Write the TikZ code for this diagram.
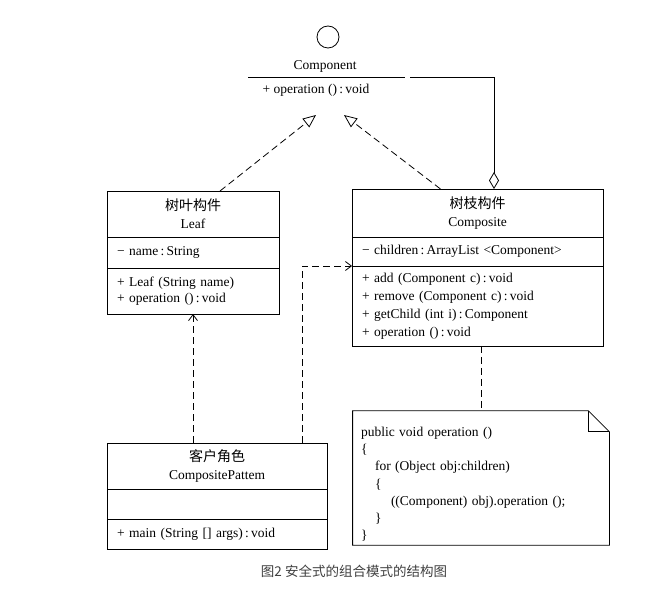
\documentclass[tikz,border=0pt]{standalone}
\usepackage{fontspec}
\setmainfont{Liberation Serif}
\newfontfamily\cjk{Noto Sans CJK SC}
\usetikzlibrary{arrows.meta}
\newcommand{\cl}{\,:\,}

\begin{document}
\begin{tikzpicture}[x=1pt,y=-1pt,line width=0.8pt,
    font=\fontsize{13.5}{16}\selectfont,
    classtitle/.style={rectangle, draw, align=center, inner sep=0pt, outer sep=0pt},
    classpart/.style={rectangle, draw, align=left, inner xsep=10pt, inner ysep=0pt, outer sep=0pt},
    realize/.style={dash pattern=on 7pt off 4pt, -{Triangle[open,length=13pt,width=11pt]}},
    depend/.style={dash pattern=on 7pt off 4pt, -{Straight Barb[length=6pt,width=9pt]}},
    noteline/.style={dash pattern=on 7pt off 4pt}]
   \useasboundingbox (0,0) rectangle (664,601);

   \node[circle, draw, minimum size=22pt, inner sep=0pt] (lolli) at (328,37) {};
   \node (compName) at (325,66) {Component};
   \draw (248,77) -- (405,77);
   \node (compOp) at (316,90) {+ operation ()\cl void};
   \coordinate (realL) at (316,115);
   \coordinate (realR) at (344,115);
   \coordinate (aggStart) at (410,77);

   \node[classtitle, minimum width=172pt, minimum height=46pt] (leafT) at (193,214)
      {{\cjk\fontsize{14}{16}\selectfont 树叶构件}\\[2pt]Leaf};
   \node[classpart, text width=152pt, minimum height=31pt, anchor=north] (leafA) at (leafT.south)
      {− name\cl String};
   \node[classpart, text width=152pt, minimum height=46pt, anchor=north] (leafM) at (leafA.south)
      {+ Leaf (String name)\\+ operation ()\cl void};

   \node[classtitle, minimum width=251pt, minimum height=48pt] (compT) at (477.5,213)
      {{\cjk\fontsize{14}{16}\selectfont 树枝构件}\\[2pt]Composite};
   \node[classpart, text width=231pt, minimum height=29pt, anchor=north] (compA) at (compT.south)
      {− children\cl ArrayList <Component>};
   \node[classpart, text width=231pt, minimum height=80pt, anchor=north,
      font=\fontsize{13.5}{18}\selectfont] (compM) at (compA.south)
      {+ add (Component c)\cl void\\+ remove (Component c)\cl void\\+ getChild (int i)\cl Component\\+ operation ()\cl void};

   \node[classtitle, minimum width=220pt, minimum height=46pt] (clientT) at (217,466)
      {{\cjk\fontsize{14}{16}\selectfont 客户角色}\\[2pt]CompositePattem};
   \node[classpart, text width=200pt, minimum height=30pt, anchor=north] (clientA) at (clientT.south) {};
   \node[classpart, text width=200pt, minimum height=30pt, anchor=north] (clientM) at (clientA.south)
      {+ main (String [] args)\cl void};

   \node[minimum width=256pt, minimum height=130pt, text width=240pt, align=left, inner xsep=8pt,
      font=\fontsize{13.5}{17.2}\selectfont] (note) at (481,478)
      {\rule{0pt}{22pt}public void operation ()\\
       \{\\
       \hspace*{14pt}for (Object obj:children)\\
       \hspace*{14pt}\{\\
       \hspace*{30pt}((Component) obj).operation ();\\
       \hspace*{14pt}\}\\
       \}};
   \draw (note.north west) -- ([xshift=-21pt]note.north east) -- ([yshift=-21pt]note.north east)
      -- (note.south east) -- (note.south west) -- cycle;
   \draw ([xshift=-21pt]note.north east) |- ([yshift=-21pt]note.north east);

   \draw[realize] ([xshift=27pt]leafT.north) to (realL);
   \draw[realize] ([xshift=-37pt]compT.north) to (realR);
   \draw[-{Diamond[open,length=17pt,width=10pt]}] (aggStart) -| ([xshift=16.5pt]compT.north);
   \draw[depend] (clientT.north -| leafM.south) to (leafM.south);
   \draw[depend] ([xshift=85pt]clientT.north) |- (compM.north west);
   \draw[noteline] ([xshift=3.5pt]compM.south) to (note.north);

   \node[font=\cjk\fontsize{13.5}{15}\selectfont, text=black!75] (caption) at (354,571)
      {图2 安全式的组合模式的结构图};
 \end{tikzpicture}
\end{document}
